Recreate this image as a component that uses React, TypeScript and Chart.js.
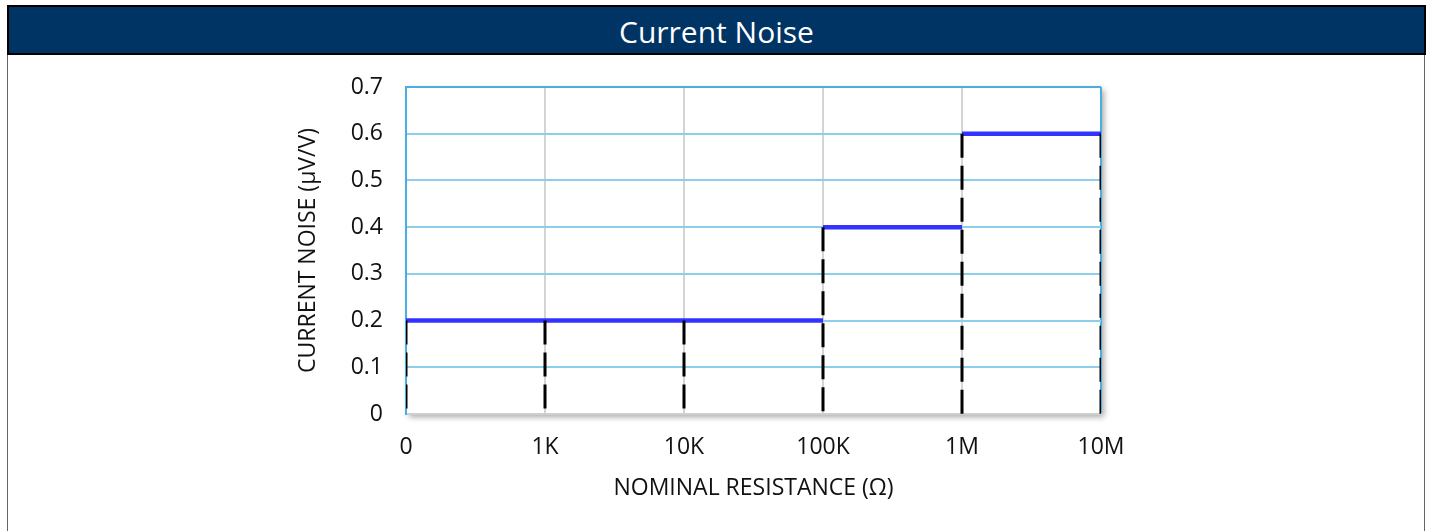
import React, { useEffect, useRef } from "react";
import { Chart, registerables } from "chart.js";

Chart.register(...registerables);

const TITLE = "Current Noise";
const X_TITLE = "NOMINAL RESISTANCE (Ω)";
const Y_TITLE = "CURRENT NOISE (μV/V)";
const RESISTANCE_LABELS = ["0", "1K", "10K", "100K", "1M", "10M"];
// noise level of each interval between consecutive resistance ticks
const INTERVAL_NOISE = [0.2, 0.2, 0.2, 0.4, 0.6];
// height of the dashed drop line at each resistance tick
const DROP_HEIGHTS = [0.2, 0.2, 0.2, 0.4, 0.6, 0.6];
const Y_MIN = 0;
const Y_MAX = 0.7;
const Y_STEP = 0.1;

const FONT = "'Open Sans', 'DejaVu Sans', sans-serif";

const shadowPlugin = {
  id: "areaShadow",
  beforeDraw(chart: any) {
    const { ctx, chartArea } = chart;
    if (!chartArea) return;
    ctx.save();
    ctx.shadowColor = "rgba(0,0,0,0.35)";
    ctx.shadowBlur = 6;
    ctx.shadowOffsetX = 3;
    ctx.shadowOffsetY = 3;
    ctx.fillStyle = "#ffffff";
    ctx.fillRect(chartArea.left, chartArea.top, chartArea.right - chartArea.left, chartArea.bottom - chartArea.top);
    ctx.restore();
  },
};

export default function App() {
  const ref = useRef<HTMLCanvasElement | null>(null);

  useEffect(() => {
    document.body.style.margin = "0";
    const canvas = ref.current;
    if (!canvas) return;

    const datasets: any[] = [];
    let start = 0;
    for (let i = 1; i <= INTERVAL_NOISE.length; i++) {
      if (i === INTERVAL_NOISE.length || INTERVAL_NOISE[i] !== INTERVAL_NOISE[start]) {
        datasets.push({
          type: "line",
          data: [
            { x: start, y: INTERVAL_NOISE[start] },
            { x: i, y: INTERVAL_NOISE[start] },
          ],
          borderColor: "#3333ff",
          borderWidth: 4.5,
          pointRadius: 0,
          order: 2,
        });
        start = i;
      }
    }
    DROP_HEIGHTS.forEach((h, i) => {
      datasets.push({
        type: "line",
        data: [
          { x: i, y: h },
          { x: i, y: 0 },
        ],
        borderColor: "#000000",
        borderWidth: 3,
        borderDash: [24, 8],
        pointRadius: 0,
        order: 1,
      });
    });

    const chart = new Chart(canvas, {
      type: "line",
      data: { datasets },
      plugins: [shadowPlugin],
      options: {
        animation: false,
        responsive: false,
        maintainAspectRatio: false,
        layout: { padding: { left: 290, right: 332, top: 87, bottom: 0 } },
        plugins: { legend: { display: false }, tooltip: { enabled: false }, title: { display: false } },
        scales: {
          x: {
            type: "linear",
            min: 0,
            max: RESISTANCE_LABELS.length - 1,
            afterBuildTicks: (scale: any) => {
              scale.ticks = RESISTANCE_LABELS.map((_, i) => ({ value: i }));
            },
            afterFit: (scale: any) => {
              scale.height = 117;
            },
            ticks: {
              callback: (v: any) => RESISTANCE_LABELS[Math.round(Number(v))],
              font: { family: FONT, size: 23 },
              color: "#111111",
              padding: 20,
              maxRotation: 0,
            },
            grid: {
              drawTicks: false,
              color: (c: any) => (c.index === RESISTANCE_LABELS.length - 1 ? "#4aaee0" : "#d4d4d4"),
              lineWidth: 2,
            },
            border: { display: true, color: "#cfcfcf", width: 2 },
            title: {
              display: true,
              text: X_TITLE,
              font: { family: FONT, size: 23 },
              color: "#111111",
              padding: { top: 0, bottom: 29 },
            },
          },
          y: {
            min: Y_MIN,
            max: Y_MAX,
            afterFit: (scale: any) => {
              scale.width = 116;
            },
            ticks: {
              stepSize: Y_STEP,
              font: { family: FONT, size: 23 },
              color: "#111111",
              padding: 23,
              callback: (v: any) => String(Math.round(Number(v) * 10) / 10),
            },
            grid: {
              drawTicks: false,
              color: (c: any) => {
                if (c.tick && c.tick.value === 0) return "#d0d0d0";
                if (c.tick && Math.abs(c.tick.value - Y_MAX) < 1e-6) return "#4aaee0";
                return "#8ccfec";
              },
              lineWidth: 2,
            },
            border: { display: true, color: "#4aaee0", width: 2 },
            title: {
              display: true,
              text: Y_TITLE,
              font: { family: FONT, size: 23 },
              color: "#111111",
              padding: { top: 5, bottom: 0 },
            },
          },
        },
      },
    });
    return () => chart.destroy();
  }, []);

  return (
    <div style={{ position: "absolute", left: 0, top: 0, width: 1433, height: 531, overflow: "hidden", background: "#fff" }}>
      <div
        style={{
          position: "absolute",
          left: 7,
          top: 5,
          width: 1418,
          height: 560,
          borderLeft: "1px solid #666",
          borderRight: "1px solid #666",
          boxSizing: "border-box",
        }}
      />
      <div
        style={{
          position: "absolute",
          left: 7,
          top: 5,
          width: 1419,
          height: 50,
          background: "#003464",
          border: "2px solid #000",
          boxSizing: "border-box",
          color: "#fff",
          fontFamily: FONT,
          fontSize: 30,
          lineHeight: "49px",
          textAlign: "center",
        }}
      >
        {TITLE}
      </div>
      <canvas ref={ref} width={1433} height={531} style={{ position: "absolute", left: 0, top: 0, width: 1433, height: 531 }} />
    </div>
  );
}
